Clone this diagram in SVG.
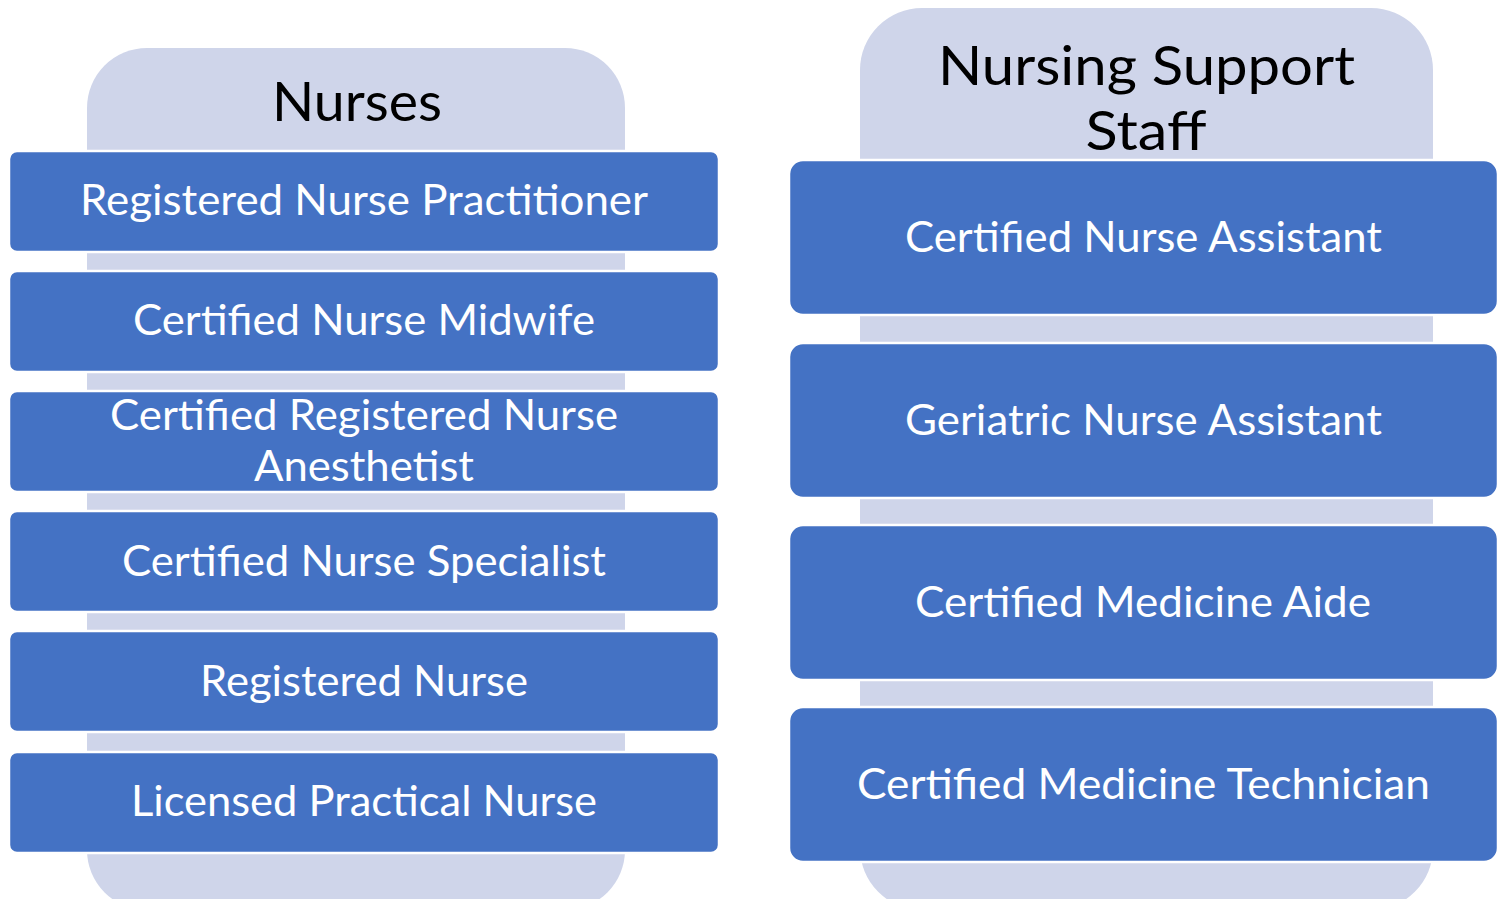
<svg xmlns="http://www.w3.org/2000/svg" width="1504" height="899" viewBox="0 0 1504 899">
<style>
.bg{fill:#CFD5EA;}
.box{fill:#4472C4;stroke:#FFFFFF;stroke-width:2.5;}
.t{font-family:Lato,"Open Sans","Liberation Sans",sans-serif;font-size:42px;fill:#FFFFFF;text-anchor:middle;}
.h{font-family:Lato,"Open Sans","Liberation Sans",sans-serif;font-size:54px;fill:#000000;text-anchor:middle;}
</style>
<rect width="1504" height="899" fill="#FFFFFF"/>
<g id="nurses">
<rect class="bg" x="87" y="48" width="538" height="862" rx="60" ry="60"/>
<text class="h" x="357" y="121" textLength="170" lengthAdjust="spacingAndGlyphs">Nurses</text>
</g>
<g id="support-staff">
<rect class="bg" x="860" y="8" width="573" height="902" rx="62" ry="62"/>
<text class="h" x="1146.5" y="85" textLength="417" lengthAdjust="spacingAndGlyphs">Nursing Support</text>
<text class="h" x="1146" y="150" textLength="121" lengthAdjust="spacingAndGlyphs">Staff</text>
</g>
<g id="connectors"></g>
<g id="rnp">
<rect class="box" x="9" y="151" width="710" height="101" rx="8"/>
<text class="t" x="364" y="215" textLength="568" lengthAdjust="spacingAndGlyphs">Registered Nurse Practitioner</text>
</g>
<g id="cnm">
<rect class="box" x="9" y="271" width="710" height="101" rx="8"/>
<text class="t" x="364" y="335" textLength="462" lengthAdjust="spacingAndGlyphs">Certified Nurse Midwife</text>
</g>
<g id="crna">
<rect class="box" x="9" y="391" width="710" height="101" rx="8"/>
<text class="t" x="364" y="430" textLength="508" lengthAdjust="spacingAndGlyphs">Certified Registered Nurse</text>
<text class="t" x="364" y="481" textLength="220" lengthAdjust="spacingAndGlyphs">Anesthetist</text>
</g>
<g id="cns">
<rect class="box" x="9" y="511" width="710" height="101" rx="8"/>
<text class="t" x="364" y="576" textLength="484" lengthAdjust="spacingAndGlyphs">Certified Nurse Specialist</text>
</g>
<g id="rn">
<rect class="box" x="9" y="631" width="710" height="101" rx="8"/>
<text class="t" x="364" y="696" textLength="328" lengthAdjust="spacingAndGlyphs">Registered Nurse</text>
</g>
<g id="lpn">
<rect class="box" x="9" y="752" width="710" height="101" rx="8"/>
<text class="t" x="364" y="816" textLength="466" lengthAdjust="spacingAndGlyphs">Licensed Practical Nurse</text>
</g>
<g id="cna">
<rect class="box" x="789" y="160" width="709" height="155" rx="14"/>
<text class="t" x="1143.5" y="252" textLength="477" lengthAdjust="spacingAndGlyphs">Certified Nurse Assistant</text>
</g>
<g id="gna">
<rect class="box" x="789" y="343" width="709" height="155" rx="14"/>
<text class="t" x="1143.5" y="435" textLength="477" lengthAdjust="spacingAndGlyphs">Geriatric Nurse Assistant</text>
</g>
<g id="cma">
<rect class="box" x="789" y="525" width="709" height="155" rx="14"/>
<text class="t" x="1143" y="617" textLength="456" lengthAdjust="spacingAndGlyphs">Certified Medicine Aide</text>
</g>
<g id="cmt">
<rect class="box" x="789" y="707" width="709" height="155" rx="14"/>
<text class="t" x="1143.5" y="799" textLength="573" lengthAdjust="spacingAndGlyphs">Certified Medicine Technician</text>
</g>
</svg>
